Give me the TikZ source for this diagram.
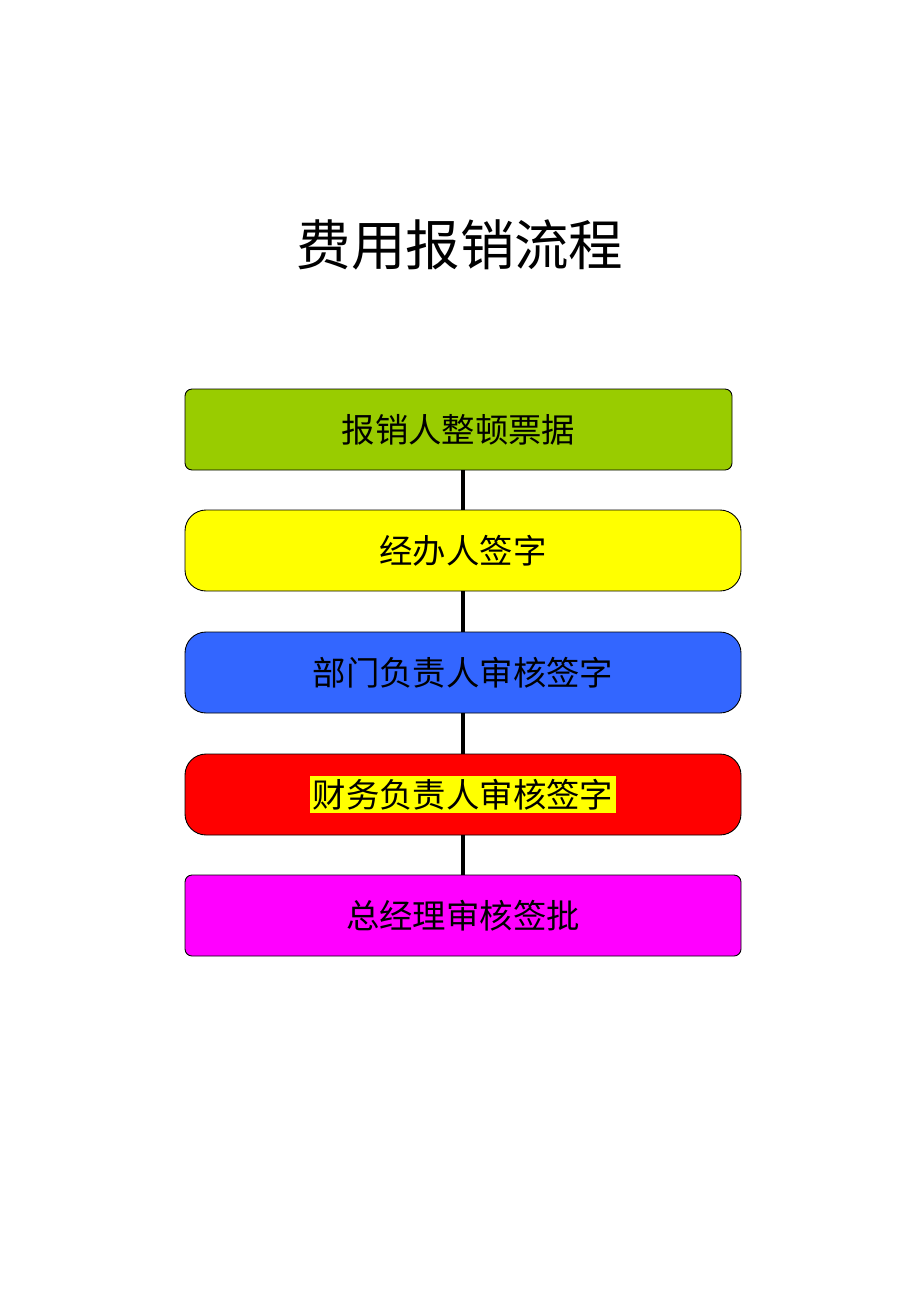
\documentclass[tikz,border=0pt]{standalone}
\usepackage{fontspec}
\newfontfamily\cjk{Noto Sans CJK SC}
\definecolor{stepgreen}{HTML}{99CC00}
\definecolor{stepyellow}{HTML}{FFFF00}
\definecolor{stepblue}{HTML}{3366FF}
\definecolor{stepred}{HTML}{FF0000}
\definecolor{stepmagenta}{HTML}{FF00FF}
\begin{document}
\begin{tikzpicture}[
  x=1cm,
  y=1cm,
  font=\cjk\fontsize{19pt}{23pt}\selectfont,
  box/.style={draw, line width=0.5pt, align=center, minimum height=1.62cm, inner sep=0pt},
  soft/.style={box, rounded corners=4pt},
  round/.style={box, rounded corners=12pt},
  link/.style={line width=2pt}
]
\useasboundingbox (0,0) rectangle (18.4,-26.04);

% Titel
\node (title) at (9.2,-4.9) {\fontsize{31pt}{36pt}\selectfont 费用报销流程};

% Schritte
\node[soft, fill=stepgreen, minimum width=10.94cm] (collect) at (9.17,-8.59) {报销人整顿票据};
\node[round, fill=stepyellow, minimum width=11.12cm] (handler) at (9.26,-11.01) {经办人签字};
\node[round, fill=stepblue, minimum width=11.12cm] (dept) at (9.26,-13.45) {部门负责人审核签字};
\node[round, fill=stepred, minimum width=11.12cm] (finance) at (9.26,-15.89) {\setlength{\fboxsep}{1.5pt}\colorbox{stepyellow}{财务负责人审核签字}};
\node[soft, fill=stepmagenta, minimum width=11.12cm] (manager) at (9.26,-18.31) {总经理审核签批};

% Verbindungen
\draw[link] (handler.north |- collect.south) -- (handler.north);
\draw[link] (handler.south) -- (dept.north);
\draw[link] (dept.south) -- (finance.north);
\draw[link] (finance.south) -- (manager.north);

\end{tikzpicture}
\end{document}
